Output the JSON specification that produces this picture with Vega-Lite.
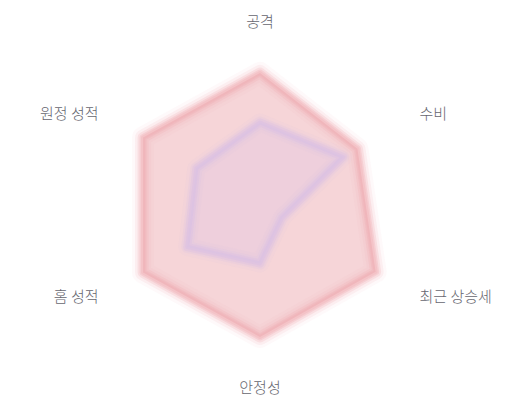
{
  "$schema": "https://vega.github.io/schema/vega-lite/v6.json",
  "width": 520,
  "height": 400,
  "autosize": {"type": "fit", "contains": "padding"},
  "padding": 0,
  "background": "white",
  "config": {"view": {"stroke": null}},
  "datasets": {
    "scores": [
      {"team": "A", "axis": "공격", "idx": 0, "value": 88},
      {"team": "A", "axis": "수비", "idx": 1, "value": 75},
      {"team": "A", "axis": "최근 상승세", "idx": 2, "value": 89},
      {"team": "A", "axis": "안정성", "idx": 3, "value": 88},
      {"team": "A", "axis": "홈 성적", "idx": 4, "value": 90},
      {"team": "A", "axis": "원정 성적", "idx": 5, "value": 90},
      {"team": "B", "axis": "공격", "idx": 0, "value": 55},
      {"team": "B", "axis": "수비", "idx": 1, "value": 64},
      {"team": "B", "axis": "최근 상승세", "idx": 2, "value": 17},
      {"team": "B", "axis": "안정성", "idx": 3, "value": 39},
      {"team": "B", "axis": "홈 성적", "idx": 4, "value": 56},
      {"team": "B", "axis": "원정 성적", "idx": 5, "value": 49}
    ],
    "labels": [
      {"axis": "공격", "idx": 0},
      {"axis": "수비", "idx": 1},
      {"axis": "최근 상승세", "idx": 2},
      {"axis": "안정성", "idx": 3},
      {"axis": "홈 성적", "idx": 4},
      {"axis": "원정 성적", "idx": 5}
    ]
  },
  "encoding": {
    "x": {"field": "x", "type": "quantitative", "scale": {"domain": [-173.333, 173.333], "nice": false, "zero": false}, "axis": null},
    "y": {"field": "y", "type": "quantitative", "scale": {"domain": [-130, 136.667], "nice": false, "zero": false}, "axis": null}
  },
  "layer": [
    {
      "data": {"name": "scores"},
      "transform": [
        {"filter": "datum.team === 'A'"},
        {"calculate": "datum.value * sin(datum.idx * PI / 3)", "as": "x"},
        {"calculate": "datum.value * cos(datum.idx * PI / 3)", "as": "y"}
      ],
      "layer": [
        {"mark": {"type": "line", "interpolate": "linear-closed", "fill": "#f6d5d8", "fillOpacity": 1, "stroke": "#f2b1b7", "strokeWidth": 22, "strokeOpacity": 0.07, "strokeJoin": "round"}, "encoding": {"order": {"field": "idx"}}},
        {"mark": {"type": "line", "interpolate": "linear-closed", "stroke": "#f2b1b7", "strokeWidth": 16, "strokeOpacity": 0.14, "strokeJoin": "round"}, "encoding": {"order": {"field": "idx"}}},
        {"mark": {"type": "line", "interpolate": "linear-closed", "stroke": "#f0a8af", "strokeWidth": 11, "strokeOpacity": 0.22, "strokeJoin": "round"}, "encoding": {"order": {"field": "idx"}}},
        {"mark": {"type": "line", "interpolate": "linear-closed", "stroke": "#f0a8af", "strokeWidth": 7, "strokeOpacity": 0.3, "strokeJoin": "round"}, "encoding": {"order": {"field": "idx"}}},
        {"mark": {"type": "line", "interpolate": "linear-closed", "stroke": "#f0a8af", "strokeWidth": 4, "strokeOpacity": 0.3, "strokeJoin": "round"}, "encoding": {"order": {"field": "idx"}}}
      ]
    },
    {
      "data": {"name": "scores"},
      "transform": [
        {"filter": "datum.team === 'B'"},
        {"calculate": "datum.value * sin(datum.idx * PI / 3)", "as": "x"},
        {"calculate": "datum.value * cos(datum.idx * PI / 3)", "as": "y"}
      ],
      "layer": [
        {"mark": {"type": "line", "interpolate": "linear-closed", "fill": "#dcc4e4", "fillOpacity": 0.3, "stroke": "#d9c2e6", "strokeWidth": 18, "strokeOpacity": 0.1, "strokeJoin": "round"}, "encoding": {"order": {"field": "idx"}}},
        {"mark": {"type": "line", "interpolate": "linear-closed", "stroke": "#d9c2e6", "strokeWidth": 12, "strokeOpacity": 0.2, "strokeJoin": "round"}, "encoding": {"order": {"field": "idx"}}},
        {"mark": {"type": "line", "interpolate": "linear-closed", "stroke": "#d6bfe6", "strokeWidth": 8, "strokeOpacity": 0.32, "strokeJoin": "round"}, "encoding": {"order": {"field": "idx"}}},
        {"mark": {"type": "line", "interpolate": "linear-closed", "stroke": "#d6bfe6", "strokeWidth": 4, "strokeOpacity": 0.4, "strokeJoin": "round"}, "encoding": {"order": {"field": "idx"}}}
      ]
    },
    {
      "data": {"name": "labels"},
      "transform": [
        {"calculate": "122 * sin(datum.idx * PI / 3)", "as": "x"},
        {"calculate": "122 * cos(datum.idx * PI / 3)", "as": "y"}
      ],
      "layer": [
        {"transform": [{"filter": "datum.idx === 0 || datum.idx === 3"}], "mark": {"type": "text", "align": "center", "baseline": "middle", "font": "Noto Sans CJK KR", "fontSize": 15, "fontWeight": 300, "color": "#66666f"}, "encoding": {"text": {"field": "axis"}}},
        {"transform": [{"filter": "datum.idx === 1 || datum.idx === 2"}], "mark": {"type": "text", "align": "left", "baseline": "middle", "dx": 1, "font": "Noto Sans CJK KR", "fontSize": 15, "fontWeight": 300, "color": "#66666f"}, "encoding": {"text": {"field": "axis"}}},
        {"transform": [{"filter": "datum.idx === 4 || datum.idx === 5"}], "mark": {"type": "text", "align": "right", "baseline": "middle", "dx": -3, "font": "Noto Sans CJK KR", "fontSize": 15, "fontWeight": 300, "color": "#66666f"}, "encoding": {"text": {"field": "axis"}}}
      ]
    }
  ]
}
